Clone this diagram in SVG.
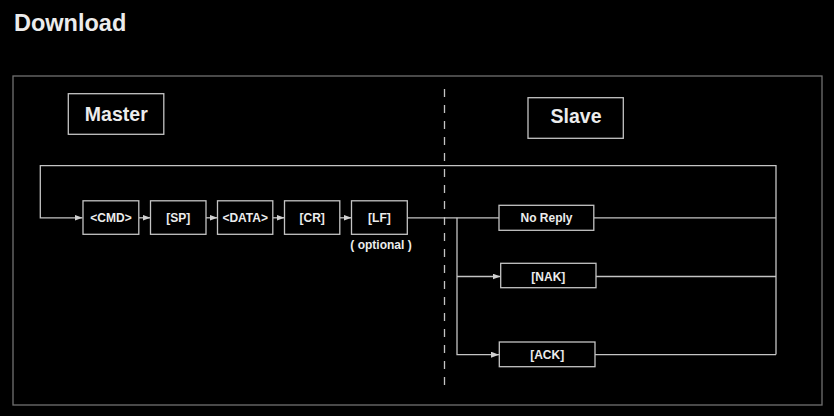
<svg xmlns="http://www.w3.org/2000/svg" width="834" height="416" viewBox="0 0 834 416">
<defs>
<style>
.t{font-family:"Liberation Sans",Arial,sans-serif;font-weight:bold;fill:#ececec;text-anchor:middle}
.s{font-size:12px}
.b{font-size:19.5px}
.box{fill:#000;stroke:#c4c4c4;stroke-width:1.3}
.ln{fill:none;stroke:#c4c4c4;stroke-width:1.3}
</style>
<marker id="ah" markerUnits="userSpaceOnUse" markerWidth="9" markerHeight="7" refX="8" refY="3" orient="auto">
<path d="M0,0 L8,3 L0,6 z" fill="#d0d0d0"/>
</marker>
</defs>
<rect width="834" height="416" fill="#000"/>
<text class="t" x="14" y="31" font-size="23.5" style="text-anchor:start">Download</text>
<rect x="13" y="76" width="809" height="329" fill="none" stroke="#707070" stroke-width="1.3"/>
<line x1="444.5" y1="89" x2="444.5" y2="388" stroke="#c4c4c4" stroke-width="1.3" stroke-dasharray="8 8"/>
<g id="connectors">
<path class="ln" d="M776 354.5 V165.7 H40.3 V217.8 H82.5" marker-end="url(#ah)"/>
<line class="ln" x1="139" y1="217.8" x2="150.5" y2="217.8" marker-end="url(#ah)"/>
<line class="ln" x1="206" y1="217.8" x2="217.5" y2="217.8" marker-end="url(#ah)"/>
<line class="ln" x1="273" y1="217.8" x2="284.5" y2="217.8" marker-end="url(#ah)"/>
<line class="ln" x1="340" y1="217.8" x2="351.5" y2="217.8" marker-end="url(#ah)"/>
<line class="ln" x1="407.3" y1="217.8" x2="499" y2="217.8"/>
<path class="ln" d="M457 217.8 V354.7 H499" marker-end="url(#ah)"/>
<line class="ln" x1="457" y1="276.5" x2="500.5" y2="276.5" marker-end="url(#ah)"/>
<line class="ln" x1="594" y1="217.8" x2="776" y2="217.8"/>
<line class="ln" x1="596" y1="276.5" x2="776" y2="276.5"/>
<line class="ln" x1="595" y1="354.7" x2="776" y2="354.7"/>
</g>
<g id="master"><rect class="box" x="68.3" y="93.7" width="95.5" height="40.6"/><text class="t b" x="116.3" y="120.5">Master</text></g>
<g id="slave"><rect class="box" x="528" y="97.7" width="95.3" height="40.6"/><text class="t b" x="576" y="123">Slave</text></g>
<g id="cmd"><rect class="box" x="83" y="200.8" width="55.8" height="33.5"/><text class="t s" x="111" y="222">&lt;CMD&gt;</text></g>
<g id="sp"><rect class="box" x="150.5" y="200.8" width="55.5" height="33.5"/><text class="t s" x="178.3" y="222">[SP]</text></g>
<g id="data"><rect class="box" x="217.5" y="200.8" width="55.3" height="33.5"/><text class="t s" x="245.2" y="222">&lt;DATA&gt;</text></g>
<g id="cr"><rect class="box" x="284.5" y="200.8" width="55.3" height="33.5"/><text class="t s" x="312.2" y="222">[CR]</text></g>
<g id="lf"><rect class="box" x="351.5" y="200.8" width="55.8" height="33.5"/><text class="t s" x="379.4" y="222">[LF]</text><text class="t s" x="381" y="249">( optional )</text></g>
<g id="noreply"><rect class="box" x="499" y="205.3" width="94.8" height="25"/><text class="t s" x="546.5" y="222">No Reply</text></g>
<g id="nak"><rect class="box" x="500.7" y="263.3" width="95.3" height="24.4"/><text class="t s" x="548.3" y="280.5">[NAK]</text></g>
<g id="ack"><rect class="box" x="499.3" y="342" width="95.7" height="24.7"/><text class="t s" x="547.2" y="359">[ACK]</text></g>
</svg>
